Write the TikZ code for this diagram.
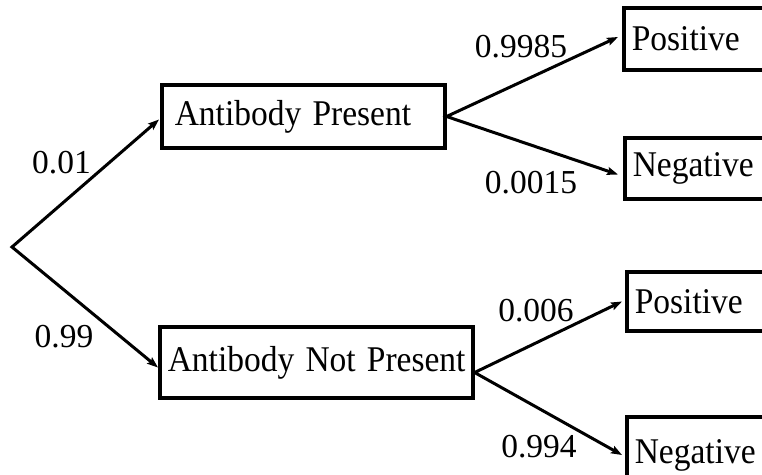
\documentclass[tikz,border=0pt]{standalone}
\usepackage{fontspec}
\usepackage{graphicx}
\setmainfont{Liberation Serif}
\usetikzlibrary{arrows.meta,calc}
% slightly taller lettering inside the boxes
\newcommand\boxtext[1]{\scalebox{1}[1.08]{#1}}
\begin{document}
\begin{tikzpicture}[x=1pt,y=-1pt,
  txt/.style={font=\fontsize{33.5}{36}\selectfont},
  box/.style={txt,draw,line width=3.6pt,inner sep=0pt},
  stage/.style={box,anchor=west,align=left},
  outcome/.style={box,anchor=west,inner xsep=8pt,text width=160pt,align=left},
  prob/.style={txt,anchor=base,inner sep=0pt},
  branch/.style={line width=3pt,line join=miter,
    {Stealth[length=11pt,width=8pt,inset=2pt]}-{Stealth[length=11pt,width=8pt,inset=2pt]}}]
\clip (0,0) rectangle (762,474);
\useasboundingbox (0,0) rectangle (762,474);

% root of the tree
\coordinate (root) at (12,247);

% first stage: antibody status
\node[stage,inner xsep=13pt,text width=257pt,minimum height=63pt] (ap) at (160,116.5) {\boxtext{Antibody Present}};
\node[stage,inner xsep=8pt,text width=297pt,minimum height=71pt] (anp) at (158,362.5) {\boxtext{Antibody Not Present}};

% second stage: test outcome
\node[outcome,minimum height=62pt] (pos1) at (622,39) {\boxtext{Positive}};
\node[outcome,minimum height=61pt] (neg1) at (623,168.5) {\boxtext{Negative}};
\node[outcome,minimum height=59pt] (pos2) at (625,301.5) {\boxtext{Positive}};
\node[outcome,minimum height=76pt] (neg2) at (625,455) {\boxtext{Negative}};

% branches
\draw[branch] ($(ap.west)+(-1,3)$) -- (root) -- ($(anp.west)+(0,5)$);
\coordinate (apx) at (ap.east);
\coordinate (anpx) at ($(anp.east)+(0,10)$);
\draw[branch] ($(pos1.west)+(-4,-2)$) -- (apx) -- ($(neg1.west)+(-5,6)$);
\draw[branch] ($(pos2.west)+(-3,0)$) -- (anpx) -- ($(neg2.west)+(-3,0)$);

% branch probabilities
\node[prob] (p1) at (61.5,173) {0.01};
\node[prob] (p2) at (64,347) {0.99};
\node[prob] (p3) at (521,57) {0.9985};
\node[prob] (p4) at (531,193) {0.0015};
\node[prob] (p5) at (536,321) {0.006};
\node[prob] (p6) at (539,457) {0.994};
\end{tikzpicture}
\end{document}
